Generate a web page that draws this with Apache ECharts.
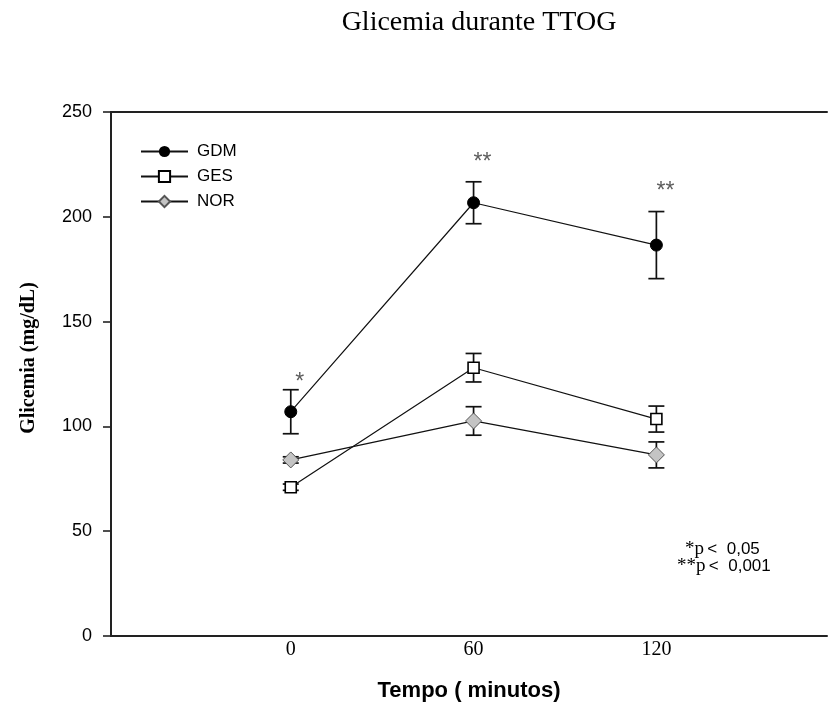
<!DOCTYPE html>
<html><head><meta charset="utf-8">
<script src="https://cdn.jsdelivr.net/npm/echarts@6/dist/echarts.min.js"></script>
<style>html,body{margin:0;padding:0;background:#fff}#c{width:829px;height:708px}</style>
</head><body><div id="c"></div>
<script>
const times = [0, 60, 120];
const xTickLabels = [0, 60, 120];
const gdmMean = [107, 206.7, 186.5];
const gdmErr  = [10.5, 10, 16];
const gesMean = [71, 128, 103.5];
const gesErr  = [1.5, 6.8, 6.2];
const norMean = [84, 102.6, 86.4];
const norErr  = [1.5, 6.8, 6.2];
const sigText = ['*', '**', '**'];
const sigY    = [121, 226, 212];

const chart = echarts.init(document.getElementById('c'));
const pairs = (m) => times.map((t, i) => [t, m[i]]);
const errData = (m, e) => times.map((t, i) => [t, m[i] - e[i], m[i] + e[i]]);

function errSeries(name, m, e) {
  return {
    type: 'custom', name: name + '_err', z: 1, silent: true,
    data: errData(m, e),
    renderItem: function (params, api) {
      const x = api.value(0);
      const lo = api.coord([x, api.value(1)]);
      const hi = api.coord([x, api.value(2)]);
      const w = 8;
      const st = { stroke: '#111', lineWidth: 1.7 };
      return { type: 'group', children: [
        { type: 'line', shape: { x1: lo[0], y1: lo[1], x2: hi[0], y2: hi[1] }, style: st },
        { type: 'line', shape: { x1: lo[0] - w, y1: lo[1], x2: lo[0] + w, y2: lo[1] }, style: st },
        { type: 'line', shape: { x1: hi[0] - w, y1: hi[1], x2: hi[0] + w, y2: hi[1] }, style: st }
      ]};
    }
  };
}

const xMin = -59, xMax = 176;
chart.setOption({
  animation: false,
  backgroundColor: '#fff',
  title: {
    text: 'Glicemia durante TTOG', left: 474, top: 4, textAlign: 'center',
    textStyle: { fontFamily: 'Liberation Serif', fontSize: 28, fontWeight: 'normal', color: '#000' }
  },
  legend: {
    left: 140, top: 143, padding: 0, orient: 'vertical', itemWidth: 47, itemHeight: 14, itemGap: 8,
    data: ['GDM', 'GES', 'NOR'],
    textStyle: { fontFamily: 'Liberation Sans', fontSize: 17, color: '#000', padding: [0, 0, 0, 4] }
  },
  grid: { left: 111, right: 2, top: 112, bottom: 72, containLabel: false },
  xAxis: [{
    type: 'value', min: xMin, max: xMax, position: 'bottom',
    name: 'Tempo ( minutos)', nameLocation: 'middle', nameGap: 44,
    nameTextStyle: { fontFamily: 'Liberation Sans', fontSize: 22, fontWeight: 'bold', color: '#000' },
    axisLine: { onZero: false, lineStyle: { color: '#222', width: 2 } },
    axisTick: { show: false },
    splitLine: { show: false },
    axisLabel: { customValues: xTickLabels, margin: 4, fontFamily: 'Liberation Serif', fontSize: 20, color: '#000' }
  }, {
    type: 'value', min: xMin, max: xMax, position: 'top',
    axisLine: { show: true, onZero: false, lineStyle: { color: '#222', width: 2 } },
    axisTick: { show: false }, axisLabel: { show: false }, splitLine: { show: false }
  }],
  yAxis: {
    type: 'value', min: 0, max: 250, interval: 50,
    name: 'Glicemia (mg/dL)', nameLocation: 'middle', nameGap: 72,
    nameTextStyle: { fontFamily: 'Liberation Serif', fontSize: 20, fontWeight: 'bold', color: '#000', padding: [0, 0, 0, 32] },
    axisLine: { show: true, onZero: false, lineStyle: { color: '#222', width: 2 } },
    axisTick: { show: true, length: 8, lineStyle: { color: '#222', width: 1.6 } },
    splitLine: { show: false },
    axisLabel: { margin: 19, fontFamily: 'Liberation Sans', fontSize: 18, color: '#000' }
  },
  series: [
    errSeries('GDM', gdmMean, gdmErr),
    errSeries('GES', gesMean, gesErr),
    errSeries('NOR', norMean, norErr),
    { type: 'line', name: 'GDM', data: pairs(gdmMean), z: 3, symbol: 'circle', symbolSize: 12,
      lineStyle: { color: '#111', width: 1.2 }, itemStyle: { color: '#000', borderColor: '#000' } },
    { type: 'line', name: 'GES', data: pairs(gesMean), z: 3, symbol: 'rect', symbolSize: 11,
      lineStyle: { color: '#111', width: 1.2 }, itemStyle: { color: '#fff', borderColor: '#000', borderWidth: 1.6 } },
    { type: 'line', name: 'NOR', data: pairs(norMean), z: 3, symbol: 'diamond', symbolSize: 16,
      lineStyle: { color: '#111', width: 1.2 }, itemStyle: { color: '#c4c4c4', borderColor: '#555', borderWidth: 1 } },
    { type: 'scatter', name: 'sig', data: times.map((t, i) => [t, sigY[i], sigText[i]]), symbolSize: 0, silent: true,
      label: { show: true, position: 'inside', offset: [9, 0], formatter: p => p.value[2],
        fontFamily: 'Liberation Sans', fontSize: 23, color: '#333' } }
  ],
  graphic: [
    { type: 'text', left: 685, top: 540, style: { text: '{s|*p} {t|<  0,05}',
      rich: { s: { fontFamily: 'Liberation Serif', fontSize: 19, fill: '#000' }, t: { fontFamily: 'Liberation Sans', fontSize: 17, fill: '#000' } } } },
    { type: 'text', left: 677, top: 557, style: { text: '{s|**p} {t|<  0,001}',
      rich: { s: { fontFamily: 'Liberation Serif', fontSize: 19, fill: '#000' }, t: { fontFamily: 'Liberation Sans', fontSize: 17, fill: '#000' } } } }
  ]
});
</script></body></html>
